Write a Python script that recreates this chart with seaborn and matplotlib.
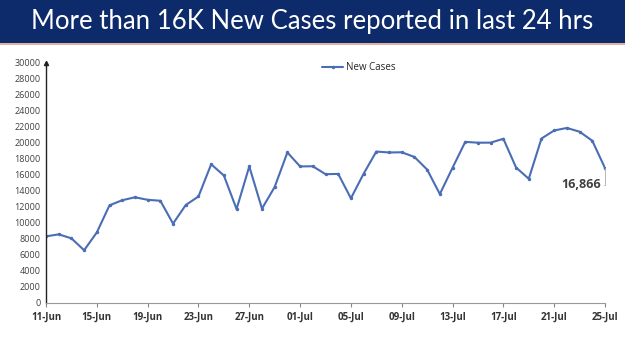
import matplotlib
matplotlib.use("Agg")
import matplotlib.pyplot as plt
import matplotlib.dates as mdates
import pandas as pd
import seaborn as sns

# daily new cases, 11-Jun to 25-Jul
dates = pd.date_range("2022-06-11", "2022-07-25", freq="D")
new_cases = [8329, 8582, 8084, 6594, 8822, 12213, 12847, 13216, 12899, 12781,
             9923, 12249, 13313, 17336, 15940, 11739, 17073, 11793, 14506, 18819,
             17070, 17092, 16103, 16135, 13086, 16159, 18930, 18815, 18840, 18257,
             16678, 13615, 16906, 20139, 20038, 20044, 20528, 16935, 15528, 20557,
             21566, 21880, 21411, 20279, 16866]
title = "More than 16K New Cases reported in last 24 hrs"

df = pd.DataFrame({"date": dates, "New Cases": new_cases})

sns.set_style("white")
plt.rcParams['font.family'] = ['Open Sans', 'DejaVu Sans']

fig = plt.figure(figsize=(6.25, 3.51), dpi=100)

# title banner
banner = fig.add_axes([0, 1 - 43/351, 1, 43/351])
banner.set_facecolor("#0d2a6a")
banner.set_xticks([]); banner.set_yticks([])
for s in banner.spines.values():
    s.set_visible(False)
banner.text(0.5, 0.5, title, color="white", fontsize=18.5, ha="center", va="center",
            family=['Lato', 'DejaVu Sans'], transform=banner.transAxes)
fig.add_artist(plt.Line2D([0, 1], [1 - 44/351, 1 - 44/351], color="#e0a090", lw=1.2))

ax = fig.add_axes([46/625, 1 - 303/351, 559/625, 240/351])
sns.lineplot(data=df, x="date", y="New Cases", ax=ax, color="#4a6db5", lw=1.5,
             marker="o", markersize=2.5, markeredgewidth=0, label="New Cases")

ax.set_ylim(0, 30000)
ax.set_yticks(range(0, 30001, 2000))
ax.set_xlim(dates[0], dates[-1])
ax.set_xticks(dates[::4])
ax.xaxis.set_major_formatter(mdates.DateFormatter("%d-%b"))
ax.set_xlabel(""); ax.set_ylabel("")
ax.tick_params(axis="y", labelsize=6.5, labelcolor="#404040", length=0, pad=4)
ax.tick_params(axis="x", labelsize=7, labelcolor="#333333", length=3, color="#888888",
               direction="out", pad=3, bottom=True)
for lbl in ax.get_xticklabels():
    lbl.set_fontweight("bold")
ax.spines["top"].set_visible(False)
ax.spines["right"].set_visible(False)
ax.spines["left"].set_color("#222222")
ax.spines["left"].set_linewidth(1.0)
ax.spines["bottom"].set_color("#999999")
ax.plot(0, 1, marker="^", color="#222222", markersize=3, transform=ax.transAxes, clip_on=False)

ax.legend(loc="upper center", bbox_to_anchor=(0.56, 1.04), frameon=False,
          fontsize=7, handlelength=2.2, handletextpad=0.3)

# last value label
ax.annotate(f"{new_cases[-1]:,}", xy=(dates[-1], new_cases[-1]),
            xytext=(dates[-1] - pd.Timedelta(days=1.9), 14800), fontsize=9,
            fontweight="bold", color="#404040", ha="center", va="center",
            arrowprops=dict(arrowstyle="-", color="#aaaaaa", lw=0.6, shrinkA=0, shrinkB=0,
                            connectionstyle="angle,angleA=0,angleB=90"))

plt.savefig("out.png", dpi=100)
